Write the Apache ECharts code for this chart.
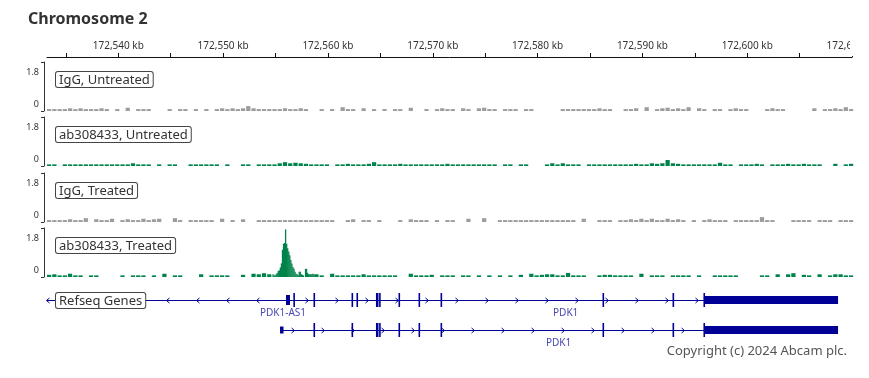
<!DOCTYPE html>
<html><head><meta charset="utf-8">
<script src="https://cdn.jsdelivr.net/npm/echarts@6/dist/echarts.min.js"></script>
<style>html,body{margin:0;padding:0;background:#fff}#c{width:869px;height:378px}</style>
</head><body><div id="c"></div>
<script>
// ---------- data ----------
const chromTitle = 'Chromosome 2';
const axisMinKb = 172533.2;
const axisMaxKb = 172609.8;
const rulerMaxKb = 172610.0;
const tickKb = [172535,172540,172545,172550,172555,172560,172565,172570,172575,172580,172585,172590,172595,172600,172605,172610];
const labelKb = [172540,172550,172560,172570,172580,172590,172600,172610];
const yTicks = [0, 1.8];

const trackNames = ['IgG, Untreated', 'ab308433, Untreated', 'IgG, Treated', 'ab308433, Treated'];
const binStartKb = 172533.2;
const binKb = 0.5;

const iggUntreated = [
0.07,0.07,0.07,0.07,0.1,0.07,0.1,0.07,0.07,0.07,
0.1,0.07,0,0.07,0,0.12,0,0.07,0.07,0.07,
0,0,0,0.07,0,0.07,0.07,0,0.07,0,
0.07,0,0.07,0.1,0.07,0.1,0.07,0.1,0.18,0.1,
0.07,0.07,0.07,0.07,0.07,0.1,0.07,0.07,0.1,0.07,
0,0,0.07,0,0.07,0,0.14,0.07,0.07,0,
0.1,0,0.07,0,0.07,0,0.07,0.07,0,0.12,
0,0,0.07,0,0.07,0.1,0.07,0.07,0,0.1,
0.07,0,0.1,0.12,0.07,0.07,0,0.07,0.07,0.07,
0,0.07,0.07,0,0,0,0,0,0.07,0.07,
0.07,0.07,0.07,0.07,0.07,0.1,0.07,0.07,0,0,
0.07,0.07,0.1,0,0.14,0,0.07,0.1,0.12,0.07,
0.1,0.07,0.14,0,0.1,0.07,0,0.07,0.07,0,
0.07,0.1,0.07,0.07,0,0,0,0.07,0.1,0.07,
0.07,0,0,0,0,0,0.1,0,0.07,0.07,
0.1,0.07,0.14,0.07];

const abUntreated = [
0.06,0.06,0,0.06,0.06,0.06,0.06,0.06,0.06,0.06,
0.06,0.06,0.06,0.06,0.06,0.06,0.1,0.06,0.06,0.06,
0,0.06,0,0.06,0.06,0,0,0.06,0.06,0.06,
0.06,0.06,0.06,0,0.06,0,0,0.06,0.06,0,
0.06,0.06,0.06,0.06,0.1,0.14,0.1,0.12,0.1,0.08,
0.06,0.06,0.06,0.06,0,0.06,0.06,0.08,0.06,0.06,
0.06,0.08,0.14,0.06,0.06,0.06,0.06,0.08,0.06,0.06,
0.06,0.06,0.06,0.06,0.06,0.06,0.08,0.06,0.06,0.06,
0.06,0.06,0.06,0.06,0.06,0.06,0,0.06,0.06,0,
0.06,0.06,0,0,0,0.06,0.1,0.06,0.1,0.06,
0.06,0.06,0,0.06,0.06,0.06,0.06,0.06,0.06,0.06,
0.06,0.06,0.08,0.06,0.06,0.1,0.08,0.1,0.22,0.1,
0.08,0.06,0.06,0.06,0.06,0.06,0.06,0.06,0.12,0.06,
0.06,0,0.06,0.06,0.06,0.08,0.06,0,0.06,0.06,
0.06,0.08,0.06,0.06,0.08,0.06,0.06,0.06,0,0,
0.08,0,0.06,0.08];

const iggTreated = [
0.07,0.07,0.07,0.07,0.1,0.07,0.07,0.14,0,0.1,
0.07,0.07,0.12,0,0.07,0.1,0.07,0.07,0.12,0.07,
0.1,0.12,0,0,0.14,0.07,0,0.07,0.07,0.07,
0.07,0.07,0,0.12,0,0.07,0,0.1,0,0,
0.07,0.07,0.07,0.07,0.07,0.07,0.07,0.07,0.07,0.07,
0.07,0.07,0.07,0.07,0.07,0,0,0.07,0.1,0,
0.07,0.07,0,0.07,0,0,0,0.07,0,0.1,
0.07,0.07,0.07,0,0.07,0,0.07,0.07,0,0,
0.12,0,0,0.14,0,0,0.07,0.07,0.07,0.07,
0.07,0.07,0.07,0.07,0.07,0.07,0.07,0.07,0.07,0.07,
0.07,0,0.12,0,0,0.07,0.07,0.07,0,0.07,
0.07,0.1,0.07,0.12,0.07,0.12,0.07,0.07,0.12,0.07,
0.1,0.07,0,0.07,0,0.07,0.1,0.07,0.07,0.07,
0,0.07,0.07,0.07,0.07,0.07,0.18,0.07,0.07,0,
0,0,0.07,0.07,0.07,0.07,0,0.07,0.07,0.07,
0,0.07,0.07,0.07];

const abTreated = [
0.08,0.1,0.06,0.06,0.12,0.06,0.06,0,0.06,0.06,
0,0,0,0,0.06,0,0.06,0.06,0.06,0,
0.06,0,0.12,0,0.06,0.06,0,0,0,0.1,
0,0.06,0.06,0.06,0.06,0,0,0.08,0,0.12,
0.1,0.14,0.1,0,0,0,0,0,0,0,
0,0.1,0.06,0,0.12,0.06,0.06,0.06,0.06,0.06,
0.1,0.06,0.06,0.06,0.06,0.06,0.06,0,0,0.12,
0.06,0.06,0.06,0.08,0,0.06,0.06,0.06,0,0.06,
0.06,0,0.06,0,0.06,0,0.06,0,0.06,0,
0.08,0,0.12,0.06,0.08,0.1,0.1,0.06,0.06,0.15,
0.06,0.06,0.06,0,0,0.06,0.08,0.08,0.06,0.06,
0.06,0.06,0,0.12,0,0.06,0.06,0.06,0,0.06,
0.06,0.06,0.06,0,0.06,0,0,0.06,0.06,0.06,
0.06,0.06,0,0,0,0,0.06,0.06,0,0.1,
0,0.1,0.14,0,0.08,0.06,0,0.1,0,0.06,
0.1,0.1,0.06,0.06];

// fine-resolution bins around the peak of ab308433, Treated
const peakStartKb = 172554.7;
const peakBinKb = 0.1;
const abTreatedPeak = [
0.1,0.06,0.06,0.1,0.15,0.22,0.25,0.35,0.5,1.0,
1.22,1.25,1.75,1.22,1.06,0.94,0.8,0.62,0.5,0.37,
0.3,0.19,0.12,0.1,0.06,0.19,0.19,0.1,0.08,0.06,
0,0.3,0.3,0.15,0.1,0.1,0.1,0.1,0.12,0.1];

// RefSeq gene models (kb)
const geneTrackName = 'Refseq Genes';
const geneNames   = ['PDK1-AS1', 'PDK1', 'PDK1'];
const geneRows    = [0, 0, 1];
const geneStrands = ['-', '+', '+'];
const geneStarts  = [172530.0, 172556.76, 172555.43];
const geneEnds    = [172556.76, 172608.66, 172608.66];
const geneLabelKb = [172555.71, 172582.68, 172582.0];
const geneExons = [
  [[172556.0, 172556.38, 'nc']],
  [[172556.70,172556.80,'cds'],[172558.62,172558.72,'cds'],[172562.25,172562.35,'cds'],[172562.72,172562.82,'cds'],
   [172564.58,172564.82,'cds'],[172564.88,172564.97,'cds'],[172566.73,172566.83,'cds'],[172568.64,172568.74,'cds'],
   [172570.74,172570.84,'cds'],[172586.19,172586.29,'cds'],[172592.87,172592.97,'cds'],[172595.82,172595.92,'cds'],
   [172595.87,172608.66,'utr']],
  [[172555.43,172555.76,'utr5'],[172558.62,172558.72,'cds'],[172562.25,172562.35,'cds'],
   [172564.58,172564.82,'cds'],[172564.88,172564.97,'cds'],[172566.73,172566.83,'cds'],[172568.64,172568.74,'cds'],
   [172570.74,172570.84,'cds'],[172586.19,172586.29,'cds'],[172592.87,172592.97,'cds'],[172595.82,172595.92,'cds'],
   [172595.87,172608.66,'utr']]
];
const copyrightText = 'Copyright (c) 2024 Abcam plc.';

// ---------- style / layout ----------
const FONT = 'Noto Sans';
const GRAY = '#9c9c9c', GREEN = '#00834a', GENE = '#000096', GENE_LABEL = '#4646b4';
const trackTops = [62, 117, 173, 228];
const trackH = 49;
const trackColors = [GRAY, GREEN, GRAY, GREEN];
const trackData = [iggUntreated, abUntreated, iggTreated, abTreated];
const exonH = {cds: 14, utr: 8, nc: 10, utr5: 7};

const chart = echarts.init(document.getElementById('c'), null, {renderer: 'canvas'});

const grids = [{left: 47, right: 869 - 852.1, top: 56, height: 1, outerBoundsMode: 'none'}];
const xAxes = [{
  gridIndex: 0, type: 'value', position: 'top', min: axisMinKb, max: rulerMaxKb,
  axisLine: {show: true, lineStyle: {color: '#111', width: 1}},
  axisTick: {show: true, customValues: tickKb, length: 4, inside: false, lineStyle: {color: '#111'}},
  axisLabel: {show: true, customValues: labelKb, margin: 5, color: '#333', fontSize: 10, fontFamily: FONT,
    formatter: v => Math.round(v).toLocaleString('en-US') + ' kb'},
  splitLine: {show: false}
}];
const yAxes = [{gridIndex: 0, type: 'value', show: false}];
const series = [];

function fmtY(v) { return (v === 0 ? '{b|' : '{t|') + v + '}'; }

for (let t = 0; t < 4; t++) {
  const gi = t + 1;
  grids.push({left: 47, right: 19, top: trackTops[t], height: trackH, outerBoundsMode: 'none'});
  xAxes.push({gridIndex: gi, type: 'value', min: axisMinKb, max: axisMaxKb, show: false});
  yAxes.push({
    gridIndex: gi, type: 'value', min: 0, max: 1.8, offset: 3,
    axisLine: {show: true, lineStyle: {color: '#333', width: 1}},
    axisTick: {show: true, customValues: yTicks, length: 3, lineStyle: {color: '#333'}},
    axisLabel: {show: true, customValues: yTicks, margin: 5, formatter: fmtY,
      rich: {
        t: {fontSize: 9, color: '#333', fontFamily: FONT, padding: [20, 0, 0, 0]},
        b: {fontSize: 9, color: '#333', fontFamily: FONT, padding: [0, 0, 14, 0]}
      }},
    splitLine: {show: false}
  });
  series.push(trackSeries(gi, trackData[t], binStartKb, binKb, trackColors[t], false));
}
series.push(trackSeries(4, abTreatedPeak, peakStartKb, peakBinKb, GREEN, true));

function trackSeries(gi, values, start, bin, color, full) {
  return {
    type: 'custom', xAxisIndex: gi, yAxisIndex: gi, silent: true, animation: false,
    data: values.map((v, i) => [start + i * bin, v]),
    encode: {x: 0, y: 1},
    renderItem: (params, api) => {
      const s = api.value(0), v = api.value(1);
      if (!v) return {type: 'group', children: []};
      const p0 = api.coord([s, 0]);
      const p1 = api.coord([s + bin, v]);
      const w = full ? (p1[0] - p0[0]) + 0.25 : Math.max(1, p1[0] - p0[0] - 1.0);
      return {type: 'rect', shape: {x: p0[0], y: p1[1], width: w, height: p0[1] - p1[1]},
        style: {fill: color}};
    }
  };
}

// gene grid
grids.push({left: 47, right: 19, top: 285, height: 60, outerBoundsMode: 'none'});
xAxes.push({gridIndex: 5, type: 'value', min: axisMinKb, max: axisMaxKb, show: false});
yAxes.push({gridIndex: 5, type: 'value', min: -0.5, max: 1.5, inverse: true, show: false});
series.push({
  type: 'custom', xAxisIndex: 5, yAxisIndex: 5, silent: true, animation: false,
  data: geneNames.map((n, i) => [geneStarts[i], geneRows[i], geneEnds[i], i]),
  encode: {x: [0, 2], y: 1},
  renderItem: (params, api) => {
    const i = api.value(3);
    const cs = params.coordSys;
    const row = geneRows[i];
    const yc = Math.round(api.coord([axisMinKb, row])[1]) + 0.5;
    const x0 = api.coord([geneStarts[i], row])[0];
    const x1 = api.coord([geneEnds[i], row])[0];
    const cx0 = Math.max(x0, cs.x), cx1 = Math.min(x1, cs.x + cs.width);
    const ch = [];
    ch.push({type: 'line', shape: {x1: cx0, y1: yc, x2: cx1, y2: yc}, style: {stroke: GENE, lineWidth: 1}});
    const arrows = [];
    if (geneStrands[i] === '+') {
      for (let x = x0 + 13; x < x1 - 2; x += 30) arrows.push(x);
    } else {
      for (let x = x1 - 36; x > cs.x - 1; x -= 30) arrows.push(x);
    }
    const d = geneStrands[i] === '+' ? 1 : -1;
    arrows.forEach(x => {
      if (x < cs.x - 1 || x > cs.x + cs.width) return;
      ch.push({type: 'polyline', shape: {points: [[x - 1.5 * d, yc - 2.5], [x + 1.5 * d, yc], [x - 1.5 * d, yc + 2.5]]},
        style: {stroke: GENE, lineWidth: 1, fill: null}});
    });
    geneExons[i].forEach(ex => {
      const a = api.coord([ex[0], row])[0], b = api.coord([ex[1], row])[0];
      const h = exonH[ex[2]];
      const w = Math.max(1.6, b - a);
      ch.push({type: 'rect', shape: {x: a, y: yc - 0.5 - h / 2, width: w, height: h}, style: {fill: GENE}});
    });
    const lx = api.coord([geneLabelKb[i], row])[0];
    ch.push({type: 'text', x: lx, y: yc + 13, style: {text: geneNames[i], fill: GENE_LABEL,
      font: '10px "' + FONT + '"', align: 'center', verticalAlign: 'middle', textAlign: 'center', textVerticalAlign: 'middle'}});
    return {type: 'group', children: ch};
  }
});

function boxLabel(text, left, top) {
  return {type: 'text', left: left, top: top, z: 50,
    style: {text: text, fill: '#333', font: '13px "' + FONT + '"', lineHeight: 14,
      backgroundColor: '#fff', borderColor: '#444', borderWidth: 1, borderRadius: 2, padding: [1, 3, 0, 3]}};
}

const graphics = [];
trackNames.forEach((n, t) => graphics.push(boxLabel(n, 55, trackTops[t] + 9)));
graphics.push(boxLabel(geneTrackName, 55, 292));
graphics.push({type: 'rect', shape: {x: 850, y: 30, width: 19, height: 26}, style: {fill: '#fff'}, z: 100});
graphics.push({type: 'text', right: 22, top: 345, z: 50,
  style: {text: copyrightText, fill: '#555', font: '13px "' + FONT + '"'}});

chart.setOption({
  animation: false,
  backgroundColor: '#fff',
  title: {text: chromTitle, left: 28, top: 11, padding: 0,
    textStyle: {fontFamily: FONT, fontSize: 16, fontWeight: 'bold', color: '#333'}},
  grid: grids, xAxis: xAxes, yAxis: yAxes, series: series, graphic: graphics
});
</script></body></html>
